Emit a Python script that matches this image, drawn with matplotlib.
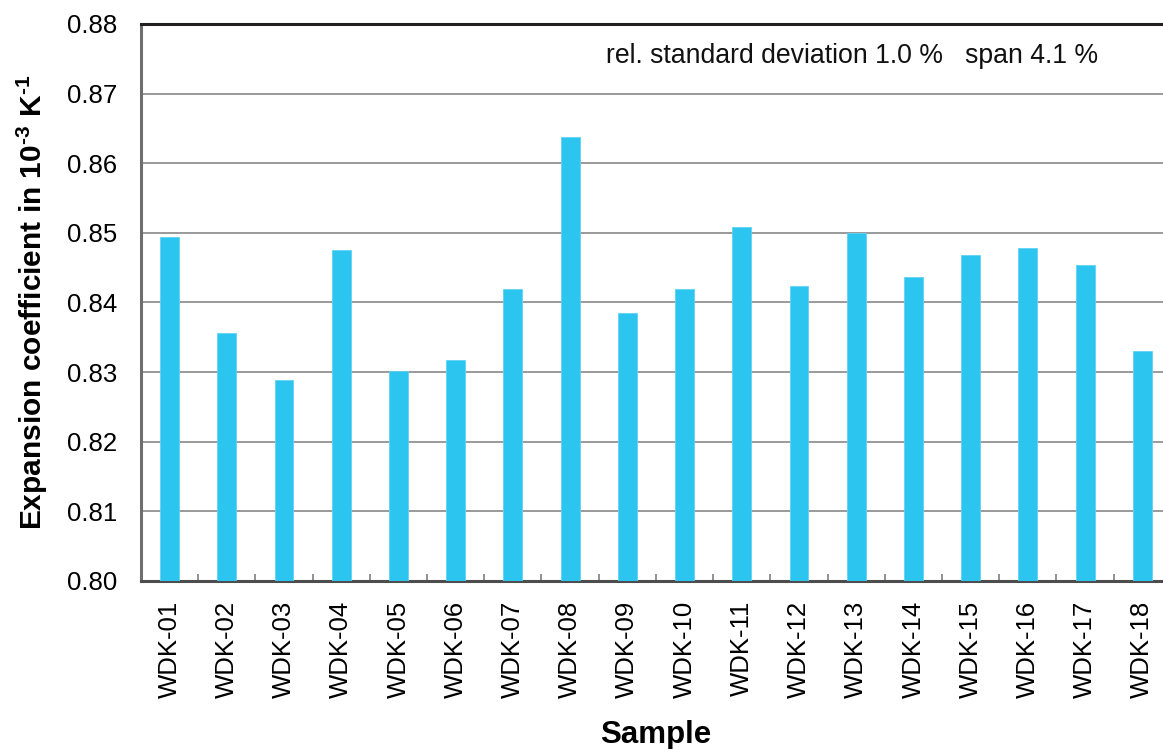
import numpy as np
import matplotlib
matplotlib.use("Agg")
import matplotlib.pyplot as plt
from matplotlib.ticker import FixedLocator

# Messwerte je Probe
samples = ["WDK-01", "WDK-02", "WDK-03", "WDK-04", "WDK-05", "WDK-06",
           "WDK-07", "WDK-08", "WDK-09", "WDK-10", "WDK-11", "WDK-12",
           "WDK-13", "WDK-14", "WDK-15", "WDK-16", "WDK-17", "WDK-18"]
alpha = [0.8494, 0.8356, 0.8288, 0.8476, 0.8301, 0.8317,
         0.8420, 0.8637, 0.8385, 0.8419, 0.8508, 0.8423,
         0.8500, 0.8437, 0.8468, 0.8478, 0.8454, 0.8331]
y_ticks = [0.80, 0.81, 0.82, 0.83, 0.84, 0.85, 0.86, 0.87, 0.88]
note = "rel. standard deviation 1.0 %   span 4.1 %"

plt.rcParams["font.family"] = ["Liberation Sans", "DejaVu Sans"]
# Exponenten in fetter Arial-Schrift mit kurzem Bindestrich
plt.rcParams["mathtext.fontset"] = "custom"
plt.rcParams["mathtext.rm"] = "Liberation Sans:bold"
plt.rcParams["mathtext.bf"] = "Liberation Sans:bold"

fig = plt.figure(figsize=(11.63, 7.49), dpi=100)
ax = fig.add_axes([0.1212, 0.2243, 0.8856, 0.7437])

x = np.arange(len(samples))
ax.bar(x, alpha, width=0.33, bottom=0, color="#2cc5f0",
       edgecolor="#5fd3f3", linewidth=0.6, zorder=3)

ax.set_xlim(-0.5, len(samples) - 0.5)
ax.set_ylim(0.80, 0.88)
ax.set_yticks(y_ticks)
ax.set_yticklabels([f"{v:.2f}" for v in y_ticks])
ax.yaxis.grid(True, color="#7f7f7f", linewidth=1.1, zorder=0)
ax.set_axisbelow(True)

ax.set_xticks(x)
ax.set_xticklabels(samples, rotation=90, va="top", ha="center")
ax.xaxis.set_minor_locator(FixedLocator(x[:-1] + 0.5))
ax.tick_params(axis="x", which="major", length=0, pad=14, labelsize=18.5)
ax.tick_params(axis="x", which="minor", direction="in", length=5,
               width=1.2, color="#7f7f7f")
ax.tick_params(axis="y", length=0, pad=17, labelsize=18.5)

for side in ["top", "left", "bottom"]:
    ax.spines[side].set_linewidth(2.2)
ax.spines["top"].set_color("#231f20")
ax.spines["left"].set_color("#6e6e6e")
ax.spines["bottom"].set_color("#4d4d4d")
ax.spines["right"].set_visible(False)

ax.set_ylabel(r"Expansion coefficient in 10$^{\text{-3}}$ K$^{\text{-1}}$",
              fontsize=21.5, fontweight="bold", labelpad=12)
ax.set_xlabel("Sample", fontsize=22.5, fontweight="bold", labelpad=16)

ax.text(0.452, 0.942, note, transform=ax.transAxes, fontsize=19.2,
        ha="left", va="center", color="#111111")

fig.savefig("out.png", dpi=100)
